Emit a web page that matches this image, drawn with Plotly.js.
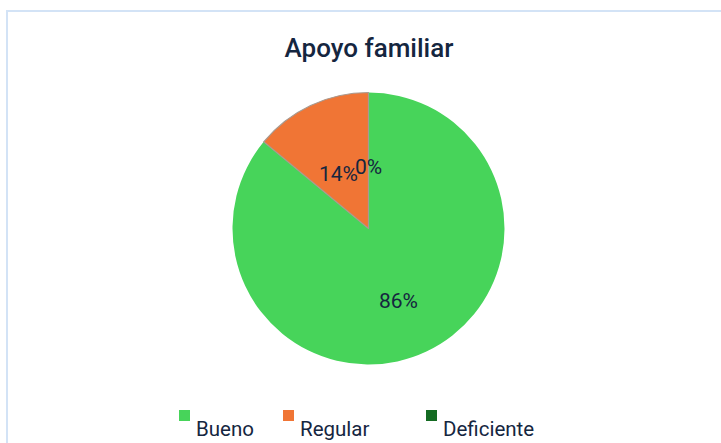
<!DOCTYPE html>
<html>
<head>
<meta charset="utf-8">
<script src="https://cdn.plot.ly/plotly-3.0.1.min.js"></script>
<style>
  html, body { margin: 0; padding: 0; background: #ffffff; overflow: hidden; }
  #frame { position: absolute; left: 6px; top: 10px; width: 900px; height: 600px;
           border-top: 2px solid #d3e3f6; border-left: 2px solid #d3e3f6; }
  #chart { position: absolute; left: 0; top: 0; width: 721px; height: 443px; }
</style>
</head>
<body>
<div id="frame"></div>
<div id="chart"></div>
<script>
const categories = ["Bueno", "Regular", "Deficiente"];
const values = [86, 14, 0];
const sliceColors = ["#47d45a", "#f07535", "#146b22"];
const lineColors = ["rgba(0,0,0,0)", "#a89a90", "rgba(0,0,0,0)"];
const lineWidths = [0, 1.2, 0];
const titleText = "Apoyo familiar";

const W = 721, H = 443;
const cx = 368.5, cy = 228.5, R = 136;
const domX = [(cx - R) / W, (cx + R) / W];
const domY = [(H - cy - R) / H, (H - cy + R) / H];

const total = values.reduce((a, b) => a + b, 0);
const textColor = "#15263f";
const annotations = [];
const shapes = [];

// percentage labels on slices
let cum = 0;
values.forEach((v, i) => {
  const mid = (cum + v / 2) / total * 2 * Math.PI;
  cum += v;
  const r = 0.52 * R;
  const px = cx + r * Math.sin(mid);
  const py = cy - r * Math.cos(mid);
  annotations.push({
    x: px / W, y: 1 - py / H, xref: "paper", yref: "paper",
    text: Math.round(v / total * 100) + "%", showarrow: false,
    xanchor: "center", yanchor: "middle", yshift: -9,
    font: { family: "Roboto", size: 21, color: textColor }
  });
});

// legend (square raised above label, as in the original)
const legendTextX = [194, 298, 441];
const legendSq = 11;
categories.forEach((c, i) => {
  const tx = legendTextX[i];
  shapes.push({
    type: "rect", xref: "paper", yref: "paper",
    x0: (tx - 15) / W, x1: (tx - 15 + legendSq) / W,
    y0: 1 - (410 + legendSq) / H, y1: 1 - 410 / H,
    fillcolor: sliceColors[i], line: { width: 0 }
  });
  annotations.push({
    x: tx / W, y: 1 - 429 / H, xref: "paper", yref: "paper",
    text: c, showarrow: false, xanchor: "left", yanchor: "middle",
    font: { family: "Roboto", size: 20.5, color: textColor }
  });
});

const data = [{
  type: "pie",
  labels: categories,
  values: values,
  sort: false,
  direction: "clockwise",
  rotation: 0,
  textinfo: "none",
  hoverinfo: "label+percent",
  marker: { colors: sliceColors, line: { color: lineColors, width: lineWidths } },
  domain: { x: domX, y: domY }
}];

const layout = {
  width: W, height: H,
  margin: { l: 0, r: 0, t: 0, b: 0 },
  paper_bgcolor: "rgba(0,0,0,0)",
  plot_bgcolor: "rgba(0,0,0,0)",
  title: { text: titleText, x: 369 / W, xanchor: "center", y: 1 - 48 / H, yanchor: "middle",
           font: { family: "Roboto", size: 26, weight: 500, color: textColor } },
  showlegend: false,
  annotations: annotations,
  shapes: shapes
};

Plotly.newPlot("chart", data, layout, { displayModeBar: false, staticPlot: true });
</script>
</body>
</html>
